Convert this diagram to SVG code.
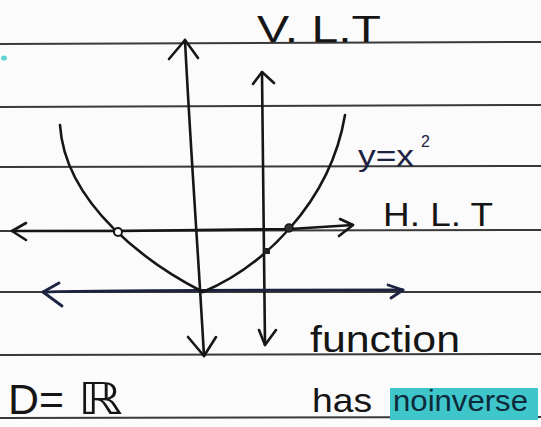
<svg xmlns="http://www.w3.org/2000/svg" width="541" height="427" viewBox="0 0 541 427">
<style>
.paper{stroke:#3a3a3a;stroke-width:2;fill:none}
.ink{stroke:#161616;stroke-width:2.6;fill:none;stroke-linecap:round;stroke-linejoin:round}
.blue{stroke:#1c2340;stroke-width:2.8;fill:none;stroke-linecap:round;stroke-linejoin:round}
.lbl{font-family:"Liberation Sans","DejaVu Sans",sans-serif;fill:#151515}
</style>
<rect x="0" y="0" width="541" height="427" fill="#fbfbfb"/>
<g id="paper-lines">
<path class="paper" d="M0 44 L541 42"/>
<path class="paper" d="M0 107 L541 105"/>
<path class="paper" d="M0 167 L541 166"/>
<path class="paper" d="M0 231 L541 230"/>
<path class="paper" d="M0 292 L541 292"/>
<path class="paper" d="M0 355 L541 354"/>
<path class="paper" d="M0 418 L541 417"/>
</g>
<ellipse cx="4" cy="58" rx="3" ry="2.5" fill="#5fd3d6"/>
<g id="connectors">
<g id="big-vertical">
<path class="ink" d="M185 40 C190 140, 198 250, 204 356"/>
<path class="ink" d="M169 59 L185 40 L198 58"/>
<path class="ink" d="M188 337 L204 356 L216 337"/>
</g>
<g id="small-vertical">
<path class="ink" d="M262 72 C263 160, 264 260, 265 345"/>
<path class="ink" d="M253 84 L262 72 L274 83"/>
<path class="ink" d="M259 330 L265 345 L276 330"/>
</g>
<g id="hlt-line">
<path class="ink" d="M12 231 L120 231 L290 229 L353 225"/>
<path class="ink" d="M26 223 L12 231 L26 240"/>
<path class="ink" d="M340 219 L353 225 L339 236"/>
</g>
<g id="x-axis">
<path class="blue" d="M43 292 C120 290, 300 290, 403 290"/>
<path class="blue" d="M59 283 L43 292 L62 306"/>
<path class="blue" d="M388 285 L403 290 L391 298"/>
</g>
</g>
<g id="parabola">
<path class="ink" d="M60 125 C65 205, 150 265, 203 292"/>
<path class="ink" d="M203 292 C260 268, 330 205, 345 115"/>
</g>
<g id="points">
<circle cx="118" cy="232" r="4" fill="#fbfbfb" stroke="#161616" stroke-width="2"/>
<circle cx="289" cy="228" r="4" fill="#333" stroke="#161616" stroke-width="1.5"/>
<rect x="264" y="248" width="6" height="6" fill="#222"/>
</g>
<g id="label-vlt"><text class="lbl" x="257" y="42" font-size="36" textLength="124" lengthAdjust="spacingAndGlyphs">V. L.T</text></g>
<g id="label-curve"><text class="lbl" x="358" y="166" font-size="30" textLength="56" lengthAdjust="spacingAndGlyphs" style="fill:#1c2340">y=x</text><text class="lbl" x="421" y="147" font-size="16" style="fill:#1c2340">2</text></g>
<g id="label-hlt"><text class="lbl" x="383" y="226" font-size="33" textLength="110" lengthAdjust="spacingAndGlyphs">H. L. T</text></g>
<g id="label-function"><text class="lbl" x="310" y="352" font-size="36" textLength="150" lengthAdjust="spacingAndGlyphs">function</text></g>
<g id="label-inverse">
<rect x="390" y="388" width="148" height="32" fill="#3fc6cb"/>
<text class="lbl" x="312" y="412" font-size="34" textLength="60" lengthAdjust="spacingAndGlyphs">has</text>
<text class="lbl" x="393" y="411" font-size="30" textLength="135" lengthAdjust="spacingAndGlyphs" style="fill:#0e2a3a">noinverse</text>
</g>
<g id="label-domain">
<text class="lbl" x="8" y="414" font-size="42" textLength="56" lengthAdjust="spacingAndGlyphs">D=</text>
<text x="78" y="414" font-size="44" font-family="DejaVu Sans,sans-serif" fill="#151515" textLength="45" lengthAdjust="spacingAndGlyphs">ℝ</text>
</g>
</svg>
